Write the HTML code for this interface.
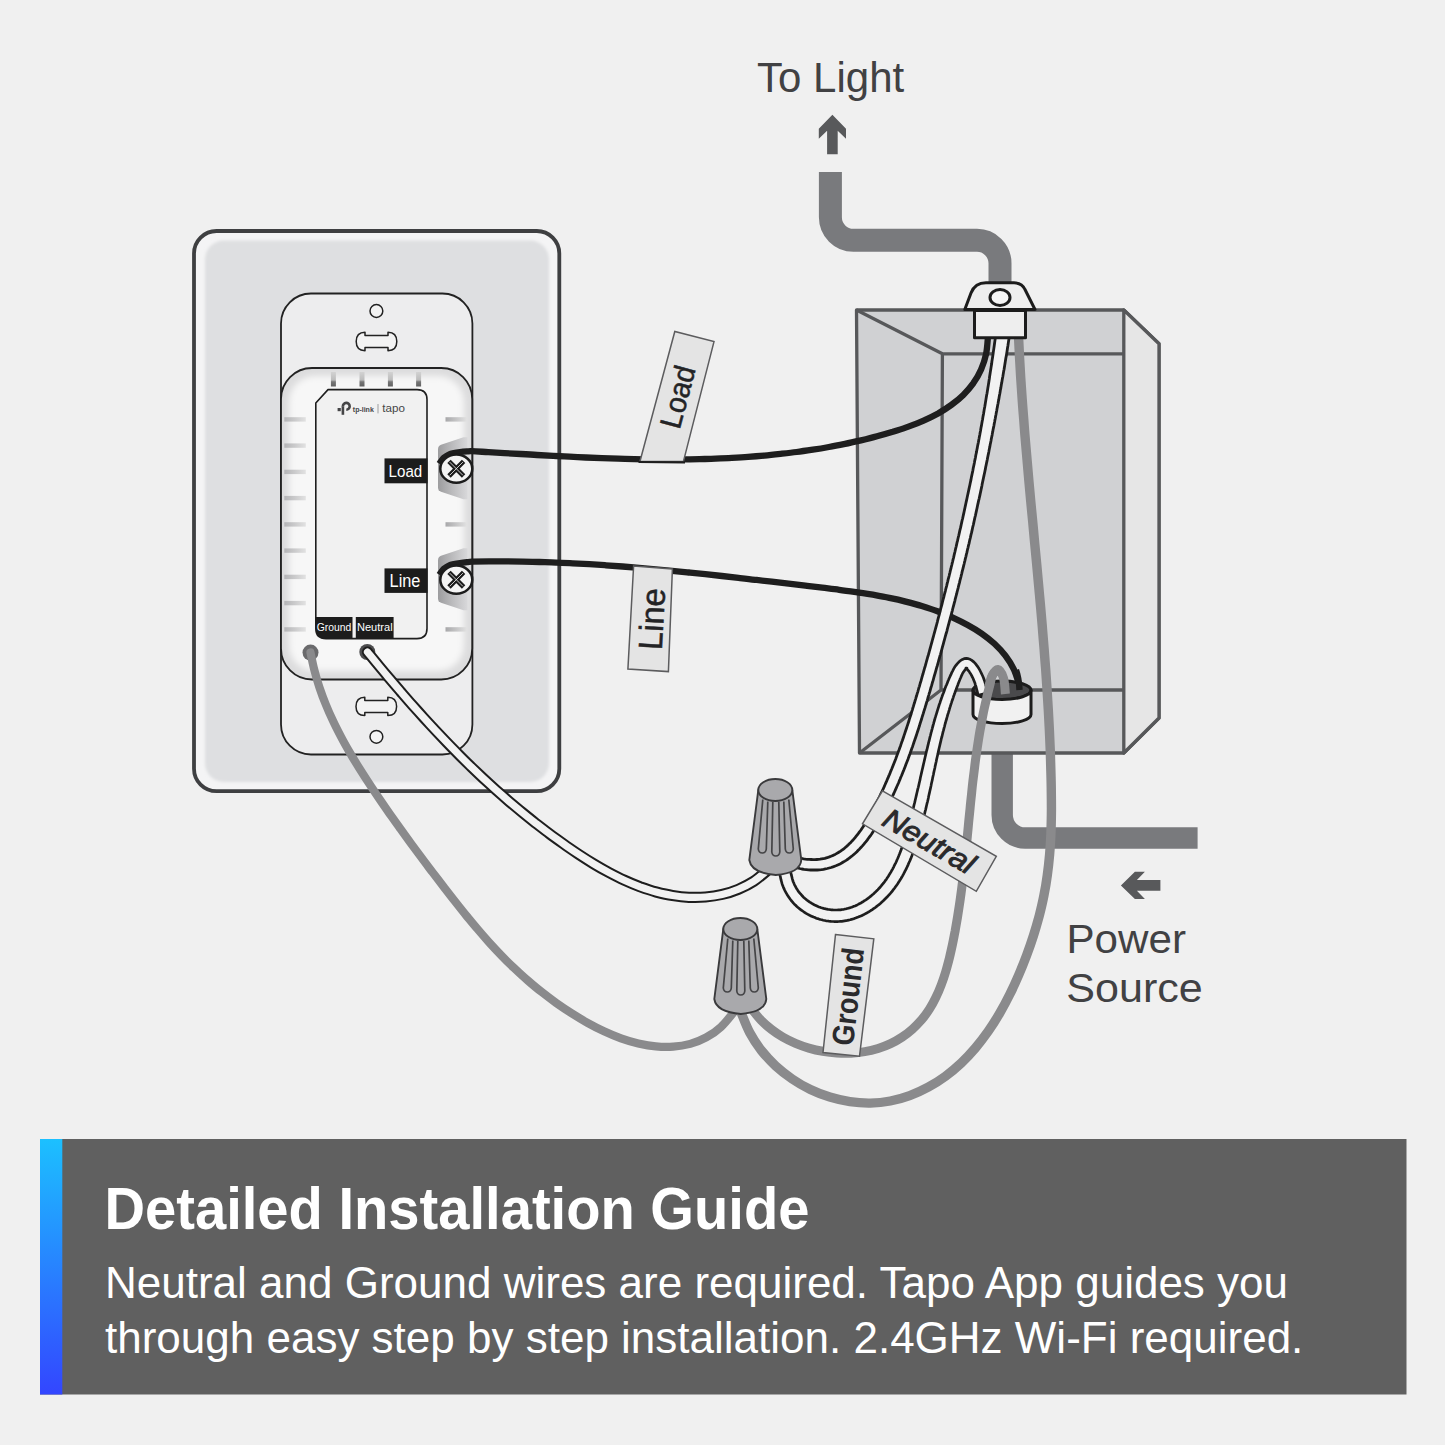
<!DOCTYPE html>
<html lang="en"><head><meta charset="utf-8"><title>Detailed Installation Guide</title>
<style>html,body{margin:0;padding:0;background:#f0f0f0;}body{width:1445px;height:1445px;overflow:hidden;font-family:"Liberation Sans",sans-serif;}svg{display:block;}</style>
</head><body>
<svg width="1445" height="1445" viewBox="0 0 1445 1445" font-family="'Liberation Sans', sans-serif">
<defs>
<filter id="b2" x="-10%" y="-10%" width="120%" height="120%"><feGaussianBlur stdDeviation="1.7"/></filter>
<filter id="b3" x="-10%" y="-10%" width="120%" height="120%"><feGaussianBlur stdDeviation="3"/></filter>
<linearGradient id="strip" x1="0" y1="0" x2="0" y2="1"><stop offset="0" stop-color="#1cc0ff"/><stop offset="1" stop-color="#3346ff"/></linearGradient>
<linearGradient id="ridgeL" x1="0" y1="0" x2="1" y2="0"><stop offset="0" stop-color="#b4b4b6"/><stop offset="1" stop-color="#e2e2e2"/></linearGradient>
<linearGradient id="ridgeR" x1="0" y1="0" x2="1" y2="0"><stop offset="0" stop-color="#a8a8aa"/><stop offset="1" stop-color="#e2e2e2"/></linearGradient>
<linearGradient id="tab" x1="0" y1="0" x2="1" y2="0"><stop offset="0" stop-color="#9c9c9e"/><stop offset="0.5" stop-color="#bcbcbe"/><stop offset="1" stop-color="#d8d8da"/></linearGradient>
<linearGradient id="notch" x1="0" y1="0" x2="0" y2="1"><stop offset="0" stop-color="#d2d2d2"/><stop offset="0.55" stop-color="#bcbcbc"/><stop offset="0.68" stop-color="#767676"/><stop offset="1" stop-color="#626262"/></linearGradient>
<clipPath id="bodyclip"><rect x="281" y="368" width="191" height="311.5" rx="31" ry="31"/></clipPath>
<g id="nut">
<path d="M-17,0 L-26,70 Q-24,83 0.5,85 Q25,83 26,70 L17,0 Z" fill="#a9a9ac" stroke="#3a3a3c" stroke-width="1.9" stroke-linejoin="round"/>
<ellipse cx="0" cy="0" rx="17" ry="11" fill="#a9a9ac" stroke="#3a3a3c" stroke-width="1.9"/>
<path d="M-12.5,9.5 L-17,59 Q-16.5,63 -13,63 Q-9.5,63 -9,59 L-7.5,11.5" fill="none" stroke="#454547" stroke-width="1.7"/>
<path d="M-2.5,12 L-3.5,62 Q-3,66 0.5,66 Q4,66 4.5,62 L3.5,12" fill="none" stroke="#454547" stroke-width="1.7"/>
<path d="M8.5,11.5 L10,59 Q10.5,63 14,63 Q17.5,63 18,59 L13.5,9.5" fill="none" stroke="#454547" stroke-width="1.7"/>
</g>
<g id="arrow"><path d="M0,0 L13.6,14 L13.6,24 L5.3,16 L5.3,39.5 L-5.3,39.5 L-5.3,16 L-13.6,24 L-13.6,14 Z" fill="#58595b"/></g>
<g id="slot"><path d="M-11.5,-6 H11.5 V-9.2 Q20.3,-9 20.3,0 Q20.3,9 11.5,9.2 V6 H-11.5 V9.2 Q-20.3,9 -20.3,0 Q-20.3,-9 -11.5,-9.2 Z" fill="#f3f3f3" stroke="#222" stroke-width="1.5" stroke-linejoin="round"/></g>
<g id="screw"><ellipse rx="16" ry="14.1" fill="#f4f4f4" stroke="#1c1c1c" stroke-width="2.5"/>
<path d="M-7.3,-7.3 L7.3,7.3 M-7.3,7.3 L7.3,-7.3" stroke="#1c1c1c" stroke-width="4.8" fill="none"/>
<path d="M-6.6,-6.6 L6.6,6.6 M-6.6,6.6 L6.6,-6.6" stroke="#f4f4f4" stroke-width="0.8" fill="none"/></g>
</defs>
<rect width="1445" height="1445" fill="#f0f0f0"/>
<rect x="194" y="231" width="365.3" height="560.2" rx="22.5" ry="22.5" fill="#f4f4f5" stroke="#3e3f41" stroke-width="3.8"/>
<rect x="205" y="240.5" width="344" height="541.5" rx="19" ry="19" fill="#dedfe1" filter="url(#b2)"/>
<rect x="281" y="293.5" width="191.4" height="461" rx="30" ry="30" fill="#ededee" stroke="#222" stroke-width="1.8"/>
<circle cx="376.4" cy="311" r="6.4" fill="#f3f3f3" stroke="#222" stroke-width="1.5"/>
<circle cx="376.4" cy="736.8" r="6.4" fill="#f3f3f3" stroke="#222" stroke-width="1.5"/>
<use href="#slot" x="376.5" y="341.5"/>
<use href="#slot" x="376.3" y="706.4"/>
<rect x="281" y="368" width="191.2" height="311.5" rx="31" ry="31" fill="#dcdcdd"/>
<g clip-path="url(#bodyclip)"><rect x="289" y="376" width="175" height="295" rx="26" ry="26" fill="#f7f7f7" filter="url(#b3)"/></g>
<rect x="330.9" y="372" width="5" height="14.5" fill="url(#notch)"/>
<rect x="359.5" y="372" width="5" height="14.5" fill="url(#notch)"/>
<rect x="387.9" y="372" width="5" height="14.5" fill="url(#notch)"/>
<rect x="416.1" y="372" width="5" height="14.5" fill="url(#notch)"/>
<rect x="284.3" y="417.2" width="21.5" height="4.4" fill="url(#ridgeL)"/>
<rect x="284.3" y="443.4" width="21.5" height="4.4" fill="url(#ridgeL)"/>
<rect x="284.3" y="469.7" width="21.5" height="4.4" fill="url(#ridgeL)"/>
<rect x="284.3" y="495.9" width="21.5" height="4.4" fill="url(#ridgeL)"/>
<rect x="284.3" y="522.2" width="21.5" height="4.4" fill="url(#ridgeL)"/>
<rect x="284.3" y="548.4" width="21.5" height="4.4" fill="url(#ridgeL)"/>
<rect x="284.3" y="574.7" width="21.5" height="4.4" fill="url(#ridgeL)"/>
<rect x="284.3" y="600.9" width="21.5" height="4.4" fill="url(#ridgeL)"/>
<rect x="284.3" y="627.2" width="21.5" height="4.4" fill="url(#ridgeL)"/>
<rect x="445.5" y="417.2" width="21.5" height="4.4" fill="url(#ridgeR)"/>
<rect x="445.5" y="522.2" width="21.5" height="4.4" fill="url(#ridgeR)"/>
<rect x="445.5" y="627.2" width="21.5" height="4.4" fill="url(#ridgeR)"/>
<path d="M438,449.3 Q438,445.8 441,444.8 L463.5,437.3 L467.5,437.3 L467.5,499.3 L463.5,499.3 L441,491.8 Q438,490.8 438,487.3 Z" fill="url(#tab)"/>
<path d="M438,560.2 Q438,556.7 441,555.7 L463.5,548.2 L467.5,548.2 L467.5,610.2 L463.5,610.2 L441,602.7 Q438,601.7 438,598.2 Z" fill="url(#tab)"/>
<rect x="281" y="368" width="191.2" height="311.5" rx="31" ry="31" fill="none" stroke="#222" stroke-width="1.8"/>
<path d="M328,389.6 H417 Q427,389.6 427,399.6 V628.5 Q427,638.6 417,638.6 H326 Q315.8,638.6 315.8,628.5 V403 Z" fill="#f1f1f1" stroke="#1e1e1e" stroke-width="1.6" stroke-linejoin="round"/>
<rect x="384.5" y="458.4" width="43" height="24.9" fill="#1c1c1c"/>
<text x="388.6" y="476.6" font-size="16" fill="#fff" textLength="33.6" lengthAdjust="spacingAndGlyphs">Load</text>
<rect x="384.5" y="568.4" width="43" height="24.5" fill="#1c1c1c"/>
<text x="389.6" y="587" font-size="18" fill="#fff" textLength="30.8" lengthAdjust="spacingAndGlyphs">Line</text>
<path d="M315.8,617 H352.5 V639 H326 Q315.8,639 315.8,628.5 Z" fill="#1c1c1c"/>
<rect x="355.8" y="617" width="37.8" height="22" fill="#1c1c1c"/>
<text x="316.8" y="631.3" font-size="11.4" fill="#fff" textLength="34.6" lengthAdjust="spacingAndGlyphs">Ground</text>
<text x="357" y="631.3" font-size="11.4" fill="#fff" textLength="35.6" lengthAdjust="spacingAndGlyphs">Neutral</text>
<g fill="#454547"><path d="M342.9,406.6 A3.4,3.4 0 1 1 346.3,409.7" fill="none" stroke="#454547" stroke-width="2.6"/><rect x="341.6" y="406.4" width="2.6" height="8.4"/><rect x="337.6" y="408" width="3.2" height="3.2"/><text x="352.8" y="411.6" font-size="7.8" font-weight="bold" textLength="21" lengthAdjust="spacingAndGlyphs">tp-link</text><rect x="377.6" y="404" width="0.8" height="9.4" fill="#8a8a8c"/><text x="382.3" y="411.6" font-size="10.4" textLength="22.6" lengthAdjust="spacingAndGlyphs">tapo</text></g>
<circle cx="310.5" cy="652.6" r="8" fill="#6a6a6c"/>
<circle cx="367.3" cy="652" r="8" fill="#4c4c4e"/>
<path d="M830.4,172 V217.3 a23,23 0 0 0 23,23 H977 a23,23 0 0 1 23,23 V290" fill="none" stroke="#797a7d" stroke-width="23"/>
<path d="M1002.2,715 V815 a23,23 0 0 0 23,23 H1197.6" fill="none" stroke="#797a7d" stroke-width="21.4"/>
<g stroke="#57585a" stroke-width="3.3" stroke-linejoin="round">
<path d="M856.5,310 H1123.8 L1159,343.8 V718 L1123.8,753 H859.5 Z" fill="#d0d1d3"/>
<path d="M1123.8,310 L1159,343.8 V718 L1123.8,753 Z" fill="#e6e6e6"/>
<path d="M856.5,310 L942.4,353.8 H1123.8 M942.4,353.8 L941,690 H1123.8 M941,690 L859.5,753" fill="none"/>
</g>
<path d="M1018.5,336.0 C1018.7,339.4 1019.2,349.8 1019.5,356.7 C1019.9,363.6 1020.3,370.5 1020.7,377.4 C1021.2,384.3 1021.6,391.2 1022.1,398.1 C1022.6,405.0 1023.1,411.9 1023.7,418.8 C1024.2,425.8 1024.7,432.7 1025.3,439.6 C1025.9,446.5 1026.5,453.4 1027.1,460.3 C1027.7,467.3 1028.3,474.2 1028.9,481.1 C1029.5,488.0 1030.2,494.9 1030.8,501.9 C1031.5,508.8 1032.1,515.7 1032.8,522.6 C1033.4,529.5 1034.1,536.5 1034.7,543.4 C1035.4,550.3 1036.0,557.2 1036.7,564.2 C1037.3,571.1 1038.0,578.0 1038.6,585.0 C1039.2,591.9 1039.9,598.8 1040.5,605.7 C1041.1,612.7 1041.7,619.6 1042.3,626.5 C1042.8,633.5 1043.4,640.4 1044.0,647.3 C1044.5,654.2 1045.0,661.2 1045.6,668.1 C1046.1,675.0 1046.5,682.0 1047.0,688.9 C1047.4,695.8 1047.9,702.7 1048.3,709.7 C1048.7,716.6 1049.0,723.5 1049.4,730.4 C1049.7,737.4 1050.0,744.3 1050.3,751.2 C1050.5,758.1 1050.7,765.1 1050.9,772.0 C1051.1,778.9 1051.3,785.8 1051.3,792.7 C1051.4,799.7 1051.5,806.6 1051.4,813.5 C1051.3,820.4 1051.2,827.3 1050.9,834.1 C1050.6,841.0 1050.2,847.9 1049.6,854.7 C1049.0,861.6 1048.3,868.4 1047.3,875.2 C1046.4,882.0 1045.3,888.7 1043.9,895.5 C1042.6,902.2 1041.0,908.9 1039.3,915.6 C1037.5,922.2 1035.6,928.9 1033.5,935.5 C1031.4,942.1 1029.1,948.7 1026.6,955.3 C1024.1,961.9 1021.5,968.5 1018.7,975.0 C1015.9,981.6 1012.9,988.1 1009.7,994.5 C1006.6,1000.8 1003.2,1007.2 999.6,1013.3 C996.1,1019.4 992.3,1025.4 988.3,1031.2 C984.2,1037.0 980.0,1042.6 975.5,1047.9 C971.0,1053.2 966.3,1058.3 961.3,1063.0 C956.3,1067.7 951.0,1072.2 945.5,1076.2 C939.9,1080.3 934.1,1084.0 928.2,1087.2 C922.2,1090.5 916.0,1093.3 909.7,1095.6 C903.4,1097.9 896.9,1099.8 890.3,1101.0 C883.8,1102.3 877.0,1103.0 870.3,1103.1 C863.5,1103.2 856.7,1102.7 849.9,1101.7 C843.2,1100.7 836.4,1099.1 829.8,1097.1 C823.2,1095.1 816.7,1092.5 810.4,1089.5 C804.2,1086.5 798.0,1083.0 792.2,1079.0 C786.5,1075.1 780.9,1070.7 775.7,1066.0 C770.6,1061.2 765.7,1056.0 761.4,1050.5 C757.1,1045.0 753.1,1039.0 749.8,1032.8 C746.4,1026.5 742.7,1016.3 741.3,1013.0" fill="none" stroke="#8a8a8c" stroke-width="9.4"/>
<path d="M439.3,463.8 C439.5,463.5 439.7,463.0 440.5,462.0 C441.3,461.0 442.6,458.9 444.0,457.6 C445.4,456.4 447.2,455.3 448.9,454.5 C450.5,453.7 452.0,453.4 453.9,453.0 C455.8,452.6 457.8,452.3 460.0,452.0 C462.2,451.7 465.0,451.5 467.0,451.4 C469.0,451.3 468.5,451.1 472.0,451.2 C475.5,451.3 482.8,451.8 488.3,452.1 C493.7,452.4 499.1,452.8 504.5,453.1 C509.9,453.4 515.3,453.7 520.8,454.0 C526.2,454.3 531.6,454.6 537.0,455.0 C542.4,455.3 547.8,455.6 553.3,455.9 C558.7,456.1 564.1,456.4 569.5,456.7 C574.9,457.0 580.3,457.2 585.7,457.5 C591.2,457.7 596.6,457.9 602.0,458.1 C607.4,458.3 612.8,458.5 618.2,458.7 C623.6,458.9 629.1,459.0 634.5,459.1 C639.9,459.3 645.3,459.3 650.7,459.4 C656.1,459.5 661.5,459.5 666.9,459.5 C672.4,459.5 677.8,459.5 683.2,459.4 C688.6,459.4 694.0,459.3 699.4,459.2 C704.8,459.0 710.2,458.9 715.6,458.6 C721.0,458.4 726.4,458.2 731.8,457.9 C737.2,457.6 742.6,457.3 748.0,456.9 C753.4,456.5 758.9,456.0 764.3,455.6 C769.7,455.1 775.1,454.5 780.5,453.9 C785.8,453.3 791.2,452.7 796.6,452.0 C802.0,451.3 807.4,450.5 812.8,449.7 C818.2,448.9 823.6,448.0 828.9,447.0 C834.3,446.1 839.7,445.0 845.0,443.9 C850.4,442.8 855.7,441.6 861.0,440.4 C866.4,439.1 871.7,437.8 877.0,436.3 C882.3,434.9 887.5,433.4 892.8,431.8 C898.0,430.1 903.3,428.5 908.4,426.6 C913.6,424.7 918.7,422.8 923.6,420.6 C928.6,418.4 933.4,416.1 938.1,413.5 C942.7,410.8 947.2,408.0 951.4,404.9 C955.6,401.8 959.7,398.5 963.3,394.9 C967.0,391.2 970.4,387.3 973.4,383.1 C976.3,378.8 979.0,374.3 981.1,369.4 C983.2,364.5 985.0,359.3 986.1,353.8 C987.3,348.2 987.7,339.0 988.0,336.0" fill="none" stroke="#1e1e1e" stroke-width="6.3"/>
<path d="M439.3,574.8 C439.5,574.5 439.7,574.0 440.5,573.0 C441.3,572.0 442.6,569.9 444.0,568.6 C445.4,567.4 447.2,566.3 448.9,565.5 C450.5,564.7 452.0,564.4 453.9,564.0 C455.8,563.6 457.8,563.3 460.0,563.0 C462.2,562.7 465.0,562.4 467.0,562.2 C469.0,562.0 468.3,561.7 472.0,561.6 C475.7,561.5 483.3,561.4 488.9,561.4 C494.6,561.3 500.2,561.3 505.8,561.4 C511.4,561.4 517.0,561.5 522.6,561.6 C528.2,561.7 533.8,561.8 539.4,562.0 C544.9,562.2 550.5,562.3 556.1,562.6 C561.6,562.8 567.2,563.0 572.7,563.3 C578.3,563.6 583.8,563.9 589.3,564.2 C594.9,564.6 600.4,564.9 605.9,565.3 C611.5,565.7 617.0,566.1 622.5,566.5 C628.0,566.9 633.5,567.4 639.1,567.8 C644.6,568.3 650.1,568.8 655.6,569.3 C661.1,569.8 666.6,570.3 672.1,570.8 C677.7,571.4 683.2,571.9 688.7,572.5 C694.2,573.1 699.7,573.6 705.3,574.2 C710.8,574.8 716.3,575.4 721.9,576.0 C727.4,576.6 732.9,577.3 738.5,577.9 C744.0,578.5 749.6,579.1 755.1,579.8 C760.7,580.4 766.3,581.1 771.8,581.7 C777.4,582.4 783.0,583.0 788.6,583.7 C794.2,584.4 799.8,585.0 805.4,585.7 C811.0,586.4 816.6,587.0 822.3,587.7 C827.9,588.4 833.5,589.0 839.2,589.8 C844.8,590.5 850.4,591.3 856.0,592.1 C861.6,592.9 867.2,593.8 872.8,594.7 C878.3,595.7 883.9,596.7 889.3,597.9 C894.8,599.0 900.3,600.2 905.7,601.6 C911.1,603.0 916.5,604.4 921.8,606.0 C927.1,607.7 932.3,609.4 937.5,611.3 C942.6,613.3 947.7,615.3 952.8,617.6 C957.8,619.9 962.8,622.3 967.6,625.0 C972.4,627.6 977.2,630.5 981.7,633.6 C986.1,636.7 990.5,640.1 994.5,643.8 C998.4,647.5 1002.2,651.4 1005.4,655.7 C1008.7,660.0 1011.6,664.7 1014.0,669.7 C1016.3,674.8 1018.6,683.3 1019.5,686.0" fill="none" stroke="#1e1e1e" stroke-width="6.3"/>
<use href="#screw" x="456.3" y="468.7"/>
<use href="#screw" x="456.3" y="579.7"/>
<path d="M640,461.3 L674.8,331.5 L714,341.6 L683.4,461.6 Z" fill="#e4e4e4" stroke="#5c5c5e" stroke-width="1.5"/>
<path d="M638.5,462 L685,462.3" stroke="#1e1e1e" stroke-width="2.2"/>
<text transform="translate(677.8,396.8) rotate(-75)" font-size="30" fill="#232325" stroke="#232325" stroke-width="0.5" text-anchor="middle" textLength="63.5" lengthAdjust="spacingAndGlyphs" x="0" y="10.3">Load</text>
<path d="M633.6,566 L672.4,569 L668.4,671.6 L627.9,669.1 Z" fill="#e4e4e4" stroke="#5c5c5e" stroke-width="1.5"/>
<text transform="translate(651.7,619) rotate(-87)" font-size="33.5" fill="#232325" stroke="#232325" stroke-width="0.5" text-anchor="middle" textLength="62" lengthAdjust="spacingAndGlyphs" x="0" y="11.8">Line</text>
<ellipse cx="1002" cy="690.3" rx="29" ry="9.2" fill="#4a4a4c" stroke="#1c1c1c" stroke-width="3"/>
<path d="M1016,670 Q1019,678 1019.5,690" fill="none" stroke="#1e1e1e" stroke-width="6.4"/>
<path d="M995.7,335.0 L995.6,336.2 L995.4,337.7 L995.1,339.6 L994.8,341.6 L994.5,343.8 L994.2,346.0 L993.9,348.1 L993.6,350.1 L993.3,352.0 L993.1,353.9 L992.8,355.8 L992.5,357.7 L992.2,359.6 L991.9,361.5 L991.7,363.3 L991.4,365.2 L991.1,367.1 L990.8,369.0 L990.5,370.9 L990.2,372.8 L989.9,374.7 L989.6,376.5 L989.4,378.4 L989.1,380.3 L988.8,382.2 L988.5,384.1 L988.2,386.0 L987.9,387.8 L987.6,389.7 L987.3,391.6 L987.0,393.5 L986.6,395.4 L986.3,397.2 L986.0,399.1 L985.7,401.0 L985.4,402.9 L985.1,404.8 L984.8,406.6 L984.4,408.5 L984.1,410.4 L983.8,412.3 L983.5,414.1 L983.1,416.0 L982.8,417.9 L982.5,419.8 L982.1,421.7 L981.8,423.5 L981.5,425.4 L981.1,427.3 L980.8,429.1 L980.5,431.0 L980.1,432.9 L979.8,434.8 L979.4,436.6 L979.1,438.5 L978.7,440.4 L978.4,442.3 L978.0,444.1 L977.6,446.0 L977.3,447.9 L976.9,449.7 L976.6,451.6 L976.2,453.5 L975.8,455.3 L975.5,457.2 L975.1,459.1 L974.7,460.9 L974.4,462.8 L974.0,464.7 L973.6,466.5 L973.2,468.4 L972.9,470.3 L972.5,472.1 L972.1,474.0 L971.7,475.9 L971.3,477.7 L971.0,479.6 L970.6,481.4 L970.2,483.3 L969.8,485.2 L969.4,487.0 L969.0,488.9 L968.6,490.8 L968.2,492.6 L967.8,494.5 L967.4,496.3 L967.0,498.2 L966.6,500.1 L966.2,501.9 L965.8,503.8 L965.4,505.6 L965.0,507.5 L964.6,509.4 L964.2,511.2 L963.8,513.1 L963.4,514.9 L963.0,516.8 L962.6,518.6 L962.1,520.5 L961.7,522.4 L961.3,524.2 L960.9,526.1 L960.5,527.9 L960.0,529.8 L959.6,531.6 L959.2,533.5 L958.8,535.3 L958.3,537.2 L957.9,539.0 L957.5,540.9 L957.0,542.7 L956.6,544.6 L956.2,546.5 L955.7,548.3 L955.3,550.2 L954.9,552.0 L954.4,553.9 L954.0,555.7 L953.6,557.6 L953.1,559.4 L952.7,561.3 L952.2,563.1 L951.8,565.0 L951.3,566.8 L950.9,568.7 L950.4,570.5 L950.0,572.3 L949.5,574.2 L949.1,576.0 L948.6,577.9 L948.1,579.7 L947.7,581.6 L947.2,583.4 L946.8,585.3 L946.3,587.1 L945.8,589.0 L945.4,590.8 L944.9,592.7 L944.4,594.5 L944.0,596.3 L943.5,598.2 L943.0,600.0 L942.5,601.9 L942.1,603.7 L941.6,605.6 L941.1,607.4 L940.6,609.2 L940.2,611.1 L939.7,612.9 L939.2,614.8 L938.7,616.6 L938.2,618.4 L937.7,620.3 L937.3,622.1 L936.8,624.0 L936.3,625.8 L935.8,627.6 L935.3,629.5 L934.8,631.3 L934.3,633.2 L933.8,635.0 L933.3,636.8 L932.8,638.7 L932.3,640.5 L931.8,642.4 L931.3,644.2 L930.8,646.0 L930.3,647.9 L929.8,649.7 L929.3,651.5 L928.8,653.4 L928.3,655.2 L927.7,657.0 L927.2,658.9 L926.7,660.7 L926.2,662.5 L925.7,664.4 L925.2,666.2 L924.6,668.0 L924.1,669.9 L923.6,671.7 L923.1,673.5 L922.5,675.4 L922.0,677.2 L921.5,679.0 L921.0,680.9 L920.4,682.7 L919.9,684.5 L919.4,686.3 L918.8,688.2 L918.3,690.0 L917.8,691.8 L917.2,693.7 L916.7,695.5 L916.1,697.3 L915.6,699.1 L915.0,701.0 L914.5,702.8 L913.9,704.6 L913.4,706.4 L912.8,708.2 L912.3,710.1 L911.7,711.9 L911.2,713.7 L910.6,715.5 L910.0,717.3 L909.4,719.1 L908.9,721.0 L908.3,722.8 L907.7,724.6 L907.1,726.4 L906.5,728.2 L905.9,730.0 L905.3,731.8 L904.7,733.6 L904.1,735.4 L903.5,737.2 L902.9,739.0 L902.3,740.8 L901.6,742.6 L901.0,744.4 L900.4,746.2 L899.7,748.0 L899.1,749.8 L898.4,751.6 L897.8,753.3 L897.1,755.1 L896.4,756.9 L895.8,758.7 L895.1,760.5 L894.4,762.3 L893.7,764.0 L893.0,765.8 L892.3,767.6 L891.6,769.3 L890.8,771.1 L890.1,772.9 L889.4,774.6 L888.6,776.4 L887.9,778.2 L887.1,779.9 L886.4,781.7 L885.6,783.4 L884.8,785.2 L884.1,786.9 L883.3,788.7 L882.5,790.4 L881.7,792.2 L880.8,793.9 L880.0,795.7 L879.2,797.4 L878.4,799.2 L877.5,800.9 L876.7,802.6 L875.8,804.3 L874.9,806.0 L874.0,807.8 L873.1,809.5 L872.2,811.2 L871.3,812.9 L870.4,814.6 L869.5,816.2 L868.5,817.9 L867.6,819.5 L866.6,821.1 L865.6,822.7 L864.6,824.3 L863.6,825.9 L862.6,827.5 L861.6,829.0 L860.6,830.5 L859.5,831.9 L858.4,833.4 L857.3,834.8 L856.2,836.2 L855.1,837.6 L854.0,838.9 L852.8,840.2 L851.7,841.4 L850.5,842.7 L849.3,843.8 L848.1,845.0 L846.9,846.1 L845.6,847.2 L844.4,848.3 L843.1,849.3 L841.9,850.2 L840.6,851.1 L839.2,852.0 L837.9,852.8 L836.5,853.6 L835.1,854.4 L833.7,855.1 L832.3,855.7 L830.9,856.3 L829.4,856.9 L827.9,857.4 L826.4,857.8 L824.8,858.3 L823.3,858.6 L821.7,858.9 L820.1,859.2 L818.4,859.4 L816.8,859.5 L815.0,859.6 L813.1,859.6 L811.2,859.5 L809.2,859.4 L807.3,859.3 L805.4,859.1 L803.7,858.8 L802.3,858.5 L801.1,858.1 L799.8,857.6 L798.4,856.9 L797.0,856.2 L795.7,855.4 L794.5,854.7 L793.4,854.0 L792.5,853.5 L787.5,862.5 L788.2,862.9 L789.2,863.5 L790.4,864.3 L791.9,865.2 L793.6,866.1 L795.5,867.0 L797.6,867.9 L799.7,868.5 L801.8,869.0 L804.0,869.4 L806.2,869.6 L808.5,869.8 L810.7,870.0 L813.0,870.0 L815.2,870.0 L817.3,870.0 L819.4,869.8 L821.5,869.6 L823.5,869.3 L825.4,868.9 L827.3,868.5 L829.2,868.0 L831.1,867.5 L832.9,866.9 L834.7,866.2 L836.5,865.5 L838.3,864.7 L840.0,863.9 L841.7,863.0 L843.3,862.0 L844.9,861.1 L846.5,860.1 L848.1,859.0 L849.6,857.8 L851.1,856.7 L852.6,855.5 L854.1,854.2 L855.5,853.0 L856.9,851.7 L858.2,850.3 L859.6,848.9 L860.9,847.5 L862.2,846.1 L863.5,844.6 L864.7,843.1 L866.0,841.6 L867.2,840.1 L868.3,838.5 L869.5,836.9 L870.7,835.3 L871.8,833.7 L872.9,832.0 L874.0,830.3 L875.1,828.7 L876.1,827.0 L877.2,825.3 L878.2,823.6 L879.2,821.8 L880.2,820.1 L881.2,818.3 L882.2,816.6 L883.1,814.8 L884.1,813.1 L885.0,811.3 L885.9,809.5 L886.8,807.8 L887.7,806.0 L888.6,804.2 L889.5,802.4 L890.4,800.6 L891.2,798.9 L892.1,797.1 L892.9,795.3 L893.8,793.5 L894.6,791.7 L895.4,789.9 L896.2,788.1 L897.0,786.3 L897.8,784.5 L898.6,782.7 L899.3,780.9 L900.1,779.1 L900.8,777.3 L901.6,775.5 L902.3,773.7 L903.0,771.9 L903.8,770.1 L904.5,768.3 L905.2,766.5 L905.9,764.6 L906.6,762.8 L907.3,761.0 L908.0,759.2 L908.6,757.4 L909.3,755.5 L910.0,753.7 L910.6,751.9 L911.3,750.1 L911.9,748.2 L912.6,746.4 L913.2,744.6 L913.8,742.8 L914.4,740.9 L915.1,739.1 L915.7,737.3 L916.3,735.5 L916.9,733.6 L917.5,731.8 L918.1,730.0 L918.7,728.1 L919.3,726.3 L919.8,724.5 L920.4,722.6 L921.0,720.8 L921.6,719.0 L922.1,717.1 L922.7,715.3 L923.3,713.4 L923.8,711.6 L924.4,709.8 L925.0,707.9 L925.5,706.1 L926.1,704.3 L926.6,702.4 L927.2,700.6 L927.7,698.8 L928.2,696.9 L928.8,695.1 L929.3,693.2 L929.9,691.4 L930.4,689.6 L930.9,687.7 L931.5,685.9 L932.0,684.1 L932.5,682.2 L933.1,680.4 L933.6,678.5 L934.1,676.7 L934.6,674.9 L935.2,673.0 L935.7,671.2 L936.2,669.3 L936.7,667.5 L937.3,665.7 L937.8,663.8 L938.3,662.0 L938.8,660.1 L939.3,658.3 L939.8,656.5 L940.4,654.6 L940.9,652.8 L941.4,650.9 L941.9,649.1 L942.4,647.2 L942.9,645.4 L943.4,643.6 L943.9,641.7 L944.4,639.9 L944.9,638.0 L945.4,636.2 L945.9,634.3 L946.5,632.5 L947.0,630.6 L947.4,628.8 L947.9,627.0 L948.4,625.1 L948.9,623.3 L949.4,621.4 L949.9,619.6 L950.4,617.7 L950.9,615.9 L951.4,614.0 L951.9,612.2 L952.4,610.3 L952.8,608.5 L953.3,606.6 L953.8,604.8 L954.3,602.9 L954.8,601.1 L955.2,599.2 L955.7,597.4 L956.2,595.5 L956.7,593.7 L957.1,591.8 L957.6,590.0 L958.1,588.1 L958.5,586.3 L959.0,584.4 L959.5,582.6 L959.9,580.7 L960.4,578.9 L960.9,577.0 L961.3,575.2 L961.8,573.3 L962.2,571.4 L962.7,569.6 L963.2,567.7 L963.6,565.9 L964.1,564.0 L964.5,562.2 L965.0,560.3 L965.4,558.4 L965.9,556.6 L966.3,554.7 L966.8,552.9 L967.2,551.0 L967.6,549.2 L968.1,547.3 L968.5,545.4 L969.0,543.6 L969.4,541.7 L969.8,539.9 L970.3,538.0 L970.7,536.1 L971.1,534.3 L971.6,532.4 L972.0,530.6 L972.4,528.7 L972.8,526.8 L973.3,525.0 L973.7,523.1 L974.1,521.2 L974.5,519.4 L974.9,517.5 L975.4,515.6 L975.8,513.8 L976.2,511.9 L976.6,510.0 L977.0,508.2 L977.4,506.3 L977.8,504.4 L978.2,502.6 L978.6,500.7 L979.1,498.8 L979.5,497.0 L979.9,495.1 L980.3,493.2 L980.7,491.4 L981.1,489.5 L981.5,487.6 L981.9,485.8 L982.2,483.9 L982.6,482.0 L983.0,480.1 L983.4,478.3 L983.8,476.4 L984.2,474.5 L984.6,472.7 L985.0,470.8 L985.4,468.9 L985.7,467.0 L986.1,465.2 L986.5,463.3 L986.9,461.4 L987.3,459.5 L987.6,457.7 L988.0,455.8 L988.4,453.9 L988.8,452.0 L989.1,450.2 L989.5,448.3 L989.9,446.4 L990.2,444.5 L990.6,442.7 L991.0,440.8 L991.3,438.9 L991.7,437.0 L992.1,435.1 L992.4,433.3 L992.8,431.4 L993.1,429.5 L993.5,427.6 L993.9,425.7 L994.2,423.9 L994.6,422.0 L994.9,420.1 L995.3,418.2 L995.6,416.3 L996.0,414.5 L996.3,412.6 L996.7,410.7 L997.0,408.8 L997.4,406.9 L997.7,405.0 L998.1,403.2 L998.4,401.3 L998.8,399.4 L999.1,397.5 L999.4,395.6 L999.8,393.7 L1000.1,391.9 L1000.4,390.0 L1000.8,388.1 L1001.1,386.2 L1001.4,384.3 L1001.8,382.4 L1002.1,380.5 L1002.4,378.6 L1002.8,376.8 L1003.1,374.9 L1003.4,373.0 L1003.7,371.1 L1004.1,369.2 L1004.4,367.3 L1004.7,365.4 L1005.0,363.5 L1005.3,361.6 L1005.6,359.7 L1005.9,357.8 L1006.3,355.9 L1006.6,354.1 L1006.9,352.2 L1007.2,350.2 L1007.5,348.0 L1007.9,345.8 L1008.2,343.6 L1008.5,341.6 L1008.8,339.7 L1009.1,338.2 L1009.3,337.0Z" fill="#f2f2f2" stroke="#1e1e1e" stroke-width="2.8" stroke-linejoin="round"/>
<path d="M987.8,692.7 L987.5,691.7 L987.1,690.2 L986.7,688.4 L986.1,686.5 L985.6,684.4 L984.9,682.2 L984.3,680.2 L983.6,678.2 L982.9,676.5 L982.1,674.8 L981.3,673.1 L980.5,671.5 L979.7,669.9 L978.8,668.3 L977.9,666.9 L976.9,665.6 L976.0,664.4 L975.0,663.2 L974.0,662.1 L972.8,661.1 L971.5,660.1 L970.1,659.3 L968.3,658.7 L966.3,658.4 L964.1,658.7 L962.4,659.4 L960.9,660.3 L959.7,661.3 L958.6,662.3 L957.6,663.4 L956.7,664.5 L955.8,665.5 L954.9,666.8 L954.1,668.1 L953.4,669.4 L952.7,670.8 L952.0,672.1 L951.4,673.4 L950.9,674.7 L950.3,675.9 L949.7,677.2 L949.1,678.5 L948.6,679.8 L948.0,681.1 L947.5,682.4 L947.0,683.7 L946.5,685.0 L945.9,686.2 L945.4,687.5 L944.9,688.8 L944.5,690.1 L944.0,691.4 L943.5,692.7 L943.0,693.9 L942.5,695.2 L942.1,696.5 L941.6,697.8 L941.2,699.1 L940.7,700.4 L940.3,701.7 L939.9,703.0 L939.4,704.2 L939.0,705.5 L938.6,706.8 L938.2,708.1 L937.8,709.4 L937.4,710.7 L937.0,712.0 L936.6,713.3 L936.2,714.6 L935.8,715.9 L935.4,717.2 L935.0,718.4 L934.7,719.7 L934.3,721.0 L933.9,722.3 L933.6,723.6 L933.2,724.9 L932.9,726.2 L932.5,727.5 L932.2,728.8 L931.8,730.1 L931.5,731.4 L931.1,732.7 L930.8,734.0 L930.5,735.3 L930.1,736.6 L929.8,737.9 L929.5,739.2 L929.2,740.5 L928.8,741.8 L928.5,743.1 L928.2,744.3 L927.9,745.6 L927.6,746.9 L927.3,748.2 L927.0,749.5 L926.6,750.8 L926.3,752.1 L926.0,753.4 L925.7,754.7 L925.4,756.0 L925.1,757.3 L924.8,758.6 L924.5,759.9 L924.2,761.2 L923.9,762.5 L923.6,763.8 L923.3,765.1 L923.0,766.4 L922.7,767.7 L922.4,769.0 L922.1,770.3 L921.8,771.6 L921.5,772.9 L921.2,774.2 L920.9,775.5 L920.6,776.8 L920.3,778.1 L920.1,779.4 L919.8,780.7 L919.5,782.0 L919.2,783.3 L918.9,784.6 L918.6,786.0 L918.3,787.3 L917.9,788.6 L917.6,789.9 L917.3,791.2 L917.0,792.5 L916.7,793.8 L916.4,795.1 L916.1,796.4 L915.8,797.7 L915.5,799.0 L915.2,800.3 L914.9,801.6 L914.6,802.9 L914.2,804.3 L913.9,805.6 L913.6,806.9 L913.3,808.2 L913.0,809.5 L912.6,810.8 L912.3,812.1 L912.0,813.4 L911.6,814.7 L911.3,816.1 L911.0,817.4 L910.6,818.7 L910.3,820.0 L909.9,821.3 L909.6,822.6 L909.2,824.0 L908.9,825.3 L908.5,826.6 L908.1,827.9 L907.8,829.2 L907.4,830.5 L907.0,831.8 L906.6,833.1 L906.2,834.4 L905.8,835.8 L905.5,837.1 L905.0,838.4 L904.6,839.6 L904.2,840.9 L903.8,842.2 L903.4,843.5 L902.9,844.8 L902.5,846.1 L902.0,847.3 L901.6,848.6 L901.1,849.9 L900.7,851.1 L900.2,852.3 L899.7,853.6 L899.2,854.8 L898.7,856.1 L898.2,857.3 L897.7,858.5 L897.1,859.7 L896.6,860.9 L896.1,862.1 L895.5,863.3 L894.9,864.4 L894.3,865.6 L893.8,866.8 L893.2,867.9 L892.6,869.1 L891.9,870.2 L891.3,871.3 L890.7,872.4 L890.0,873.5 L889.3,874.6 L888.7,875.7 L888.0,876.8 L887.3,877.8 L886.6,878.9 L885.9,879.9 L885.1,880.9 L884.4,881.9 L883.6,883.0 L882.8,883.9 L882.0,884.9 L881.2,885.9 L880.4,886.8 L879.6,887.8 L878.7,888.7 L877.9,889.6 L877.0,890.5 L876.1,891.4 L875.2,892.3 L874.3,893.1 L873.4,894.0 L872.4,894.8 L871.5,895.6 L870.5,896.4 L869.5,897.2 L868.6,897.9 L867.6,898.7 L866.6,899.4 L865.5,900.1 L864.5,900.7 L863.5,901.4 L862.5,902.0 L861.4,902.7 L860.3,903.3 L859.3,903.8 L858.2,904.4 L857.2,904.9 L856.1,905.4 L855.0,905.9 L853.9,906.3 L852.8,906.8 L851.7,907.2 L850.6,907.5 L849.5,907.9 L848.4,908.2 L847.3,908.5 L846.1,908.8 L845.0,909.0 L843.9,909.3 L842.8,909.5 L841.6,909.6 L840.5,909.8 L839.4,909.9 L838.3,909.9 L837.1,910.0 L836.0,910.0 L834.8,910.0 L833.7,910.0 L832.5,909.9 L831.4,909.8 L830.3,909.7 L829.1,909.5 L828.0,909.4 L826.9,909.2 L825.7,908.9 L824.6,908.7 L823.5,908.4 L822.3,908.0 L821.2,907.7 L820.1,907.3 L819.0,906.9 L818.0,906.5 L816.9,906.0 L815.8,905.5 L814.7,905.0 L813.7,904.5 L812.7,903.9 L811.7,903.3 L810.7,902.7 L809.7,902.1 L808.7,901.4 L807.7,900.7 L806.8,900.0 L805.9,899.2 L805.0,898.5 L804.1,897.7 L803.2,896.9 L802.4,896.0 L801.6,895.1 L800.8,894.2 L800.0,893.3 L799.2,892.4 L798.5,891.4 L797.8,890.4 L797.2,889.4 L796.5,888.4 L795.9,887.3 L795.3,886.2 L794.7,885.1 L794.2,884.0 L793.7,882.8 L793.2,881.7 L792.8,880.5 L792.4,879.1 L792.0,877.5 L791.6,875.9 L791.2,874.4 L790.9,872.9 L790.6,871.7 L790.4,870.7 L779.6,873.3 L779.8,874.1 L780.0,875.3 L780.4,876.8 L780.7,878.4 L781.1,880.2 L781.6,882.0 L782.1,883.9 L782.7,885.6 L783.3,887.1 L784.0,888.6 L784.6,890.0 L785.3,891.4 L786.1,892.8 L786.9,894.2 L787.7,895.5 L788.5,896.7 L789.4,898.0 L790.3,899.3 L791.2,900.5 L792.2,901.6 L793.2,902.8 L794.2,903.9 L795.3,904.9 L796.3,906.0 L797.4,907.0 L798.6,908.0 L799.7,908.9 L800.9,909.8 L802.1,910.7 L803.3,911.5 L804.5,912.3 L805.7,913.1 L807.0,913.9 L808.3,914.6 L809.6,915.3 L810.9,915.9 L812.2,916.5 L813.5,917.1 L814.9,917.6 L816.2,918.2 L817.6,918.6 L819.0,919.1 L820.4,919.5 L821.8,919.8 L823.2,920.2 L824.6,920.5 L826.0,920.8 L827.4,921.0 L828.9,921.2 L830.3,921.3 L831.7,921.5 L833.2,921.5 L834.6,921.6 L836.0,921.6 L837.5,921.6 L838.9,921.5 L840.3,921.4 L841.8,921.3 L843.2,921.1 L844.6,920.9 L846.0,920.7 L847.4,920.4 L848.7,920.1 L850.1,919.8 L851.5,919.4 L852.9,919.0 L854.2,918.6 L855.6,918.1 L856.9,917.6 L858.2,917.1 L859.5,916.5 L860.8,916.0 L862.1,915.4 L863.4,914.8 L864.7,914.1 L865.9,913.4 L867.2,912.8 L868.4,912.0 L869.6,911.3 L870.8,910.5 L872.0,909.8 L873.2,908.9 L874.4,908.1 L875.6,907.3 L876.7,906.4 L877.8,905.5 L879.0,904.6 L880.1,903.7 L881.1,902.8 L882.2,901.8 L883.3,900.8 L884.3,899.8 L885.3,898.8 L886.3,897.8 L887.3,896.8 L888.3,895.7 L889.3,894.6 L890.2,893.6 L891.1,892.5 L892.1,891.4 L892.9,890.2 L893.8,889.1 L894.7,888.0 L895.5,886.8 L896.3,885.7 L897.2,884.5 L898.0,883.3 L898.7,882.1 L899.5,880.9 L900.2,879.7 L901.0,878.5 L901.7,877.3 L902.4,876.1 L903.1,874.8 L903.8,873.6 L904.4,872.3 L905.1,871.0 L905.7,869.8 L906.4,868.5 L907.0,867.2 L907.6,865.9 L908.2,864.6 L908.7,863.3 L909.3,862.0 L909.9,860.7 L910.4,859.4 L911.0,858.1 L911.5,856.8 L912.0,855.5 L912.5,854.1 L913.0,852.8 L913.5,851.4 L914.0,850.1 L914.4,848.8 L914.9,847.4 L915.4,846.1 L915.8,844.7 L916.3,843.4 L916.7,842.0 L917.1,840.7 L917.5,839.3 L918.0,838.0 L918.4,836.6 L918.8,835.3 L919.2,833.9 L919.6,832.6 L919.9,831.2 L920.3,829.9 L920.7,828.5 L921.1,827.2 L921.4,825.8 L921.8,824.5 L922.2,823.2 L922.5,821.8 L922.9,820.5 L923.2,819.1 L923.6,817.8 L923.9,816.5 L924.2,815.1 L924.6,813.8 L924.9,812.4 L925.2,811.1 L925.6,809.8 L925.9,808.4 L926.2,807.1 L926.5,805.8 L926.8,804.5 L927.1,803.1 L927.5,801.8 L927.8,800.5 L928.1,799.2 L928.4,797.8 L928.6,796.5 L928.9,795.2 L929.2,793.9 L929.5,792.6 L929.8,791.2 L930.1,789.9 L930.4,788.6 L930.7,787.3 L931.0,786.0 L931.2,784.7 L931.5,783.3 L931.8,782.0 L932.1,780.7 L932.4,779.4 L932.6,778.1 L932.9,776.8 L933.2,775.5 L933.5,774.2 L933.7,772.9 L934.0,771.6 L934.3,770.3 L934.6,769.0 L934.9,767.7 L935.1,766.4 L935.4,765.1 L935.7,763.8 L936.0,762.5 L936.3,761.2 L936.5,759.9 L936.8,758.6 L937.1,757.3 L937.4,756.0 L937.7,754.7 L938.0,753.4 L938.2,752.2 L938.5,750.9 L938.8,749.6 L939.1,748.3 L939.4,747.0 L939.7,745.7 L940.0,744.4 L940.3,743.2 L940.6,741.9 L940.9,740.6 L941.2,739.3 L941.5,738.0 L941.9,736.8 L942.2,735.5 L942.5,734.2 L942.8,732.9 L943.1,731.7 L943.5,730.4 L943.8,729.1 L944.1,727.9 L944.5,726.6 L944.8,725.3 L945.1,724.0 L945.5,722.8 L945.8,721.5 L946.2,720.2 L946.6,719.0 L946.9,717.7 L947.3,716.4 L947.6,715.2 L948.0,713.9 L948.4,712.7 L948.8,711.4 L949.2,710.1 L949.5,708.9 L949.9,707.6 L950.3,706.4 L950.7,705.1 L951.1,703.8 L951.5,702.6 L951.9,701.3 L952.4,700.1 L952.8,698.8 L953.2,697.6 L953.6,696.3 L954.1,695.0 L954.5,693.8 L955.0,692.5 L955.4,691.3 L955.9,690.0 L956.4,688.8 L956.8,687.5 L957.3,686.2 L957.8,685.0 L958.2,683.7 L958.7,682.5 L959.2,681.3 L959.7,680.1 L960.2,678.8 L960.8,677.5 L961.3,676.3 L961.8,675.1 L962.3,674.0 L962.8,673.0 L963.3,672.2 L963.8,671.5 L964.4,670.7 L965.0,669.9 L965.6,669.2 L966.2,668.7 L966.6,668.3 L966.9,668.1 L966.8,668.1 L966.3,668.2 L965.9,668.2 L965.9,668.2 L966.1,668.3 L966.5,668.6 L967.1,669.1 L967.7,669.8 L968.4,670.6 L969.1,671.4 L969.7,672.4 L970.4,673.4 L971.1,674.6 L971.8,675.9 L972.5,677.3 L973.2,678.8 L973.8,680.3 L974.4,681.8 L975.0,683.3 L975.5,685.1 L976.1,687.0 L976.6,689.0 L977.1,690.9 L977.5,692.6 L977.9,694.2 L978.2,695.3Z" fill="#f2f2f2" stroke="#1e1e1e" stroke-width="2.7" stroke-linejoin="round"/>
<path d="M367.5,652.0 C369.4,654.3 374.9,661.1 378.6,665.5 C382.3,670.0 386.1,674.5 389.8,678.9 C393.5,683.3 397.3,687.7 401.0,692.0 C404.8,696.4 408.5,700.7 412.3,705.0 C416.1,709.2 419.9,713.5 423.7,717.7 C427.6,721.9 431.4,726.1 435.3,730.3 C439.2,734.4 443.1,738.5 447.0,742.6 C450.9,746.7 454.9,750.7 458.9,754.7 C462.9,758.8 466.9,762.7 471.0,766.7 C475.1,770.6 479.2,774.5 483.3,778.4 C487.5,782.2 491.7,786.1 495.9,789.9 C500.2,793.7 504.5,797.4 508.8,801.2 C513.2,804.9 517.6,808.6 522.0,812.2 C526.5,815.9 531.0,819.5 535.5,823.1 C540.1,826.6 544.7,830.2 549.4,833.7 C554.1,837.2 558.9,840.6 563.7,844.0 C568.5,847.5 573.4,850.8 578.3,854.1 C583.3,857.4 588.3,860.6 593.3,863.6 C598.4,866.7 603.5,869.6 608.7,872.4 C613.8,875.1 619.0,877.8 624.3,880.2 C629.5,882.6 634.8,884.8 640.1,886.8 C645.5,888.7 650.8,890.5 656.2,892.0 C661.6,893.4 667.0,894.7 672.5,895.5 C677.9,896.4 683.4,897.1 688.9,897.3 C694.4,897.5 700.0,897.5 705.5,897.0 C711.0,896.5 716.6,895.7 722.1,894.4 C727.6,893.2 733.1,891.5 738.3,889.3 C743.6,887.1 748.9,884.5 753.8,881.3 C758.7,878.0 765.6,871.9 768.0,870.0" fill="none" stroke="#1e1e1e" stroke-width="11.2" stroke-linecap="round"/>
<path d="M367.5,652.0 C369.4,654.3 374.9,661.1 378.6,665.5 C382.3,670.0 386.1,674.5 389.8,678.9 C393.5,683.3 397.3,687.7 401.0,692.0 C404.8,696.4 408.5,700.7 412.3,705.0 C416.1,709.2 419.9,713.5 423.7,717.7 C427.6,721.9 431.4,726.1 435.3,730.3 C439.2,734.4 443.1,738.5 447.0,742.6 C450.9,746.7 454.9,750.7 458.9,754.7 C462.9,758.8 466.9,762.7 471.0,766.7 C475.1,770.6 479.2,774.5 483.3,778.4 C487.5,782.2 491.7,786.1 495.9,789.9 C500.2,793.7 504.5,797.4 508.8,801.2 C513.2,804.9 517.6,808.6 522.0,812.2 C526.5,815.9 531.0,819.5 535.5,823.1 C540.1,826.6 544.7,830.2 549.4,833.7 C554.1,837.2 558.9,840.6 563.7,844.0 C568.5,847.5 573.4,850.8 578.3,854.1 C583.3,857.4 588.3,860.6 593.3,863.6 C598.4,866.7 603.5,869.6 608.7,872.4 C613.8,875.1 619.0,877.8 624.3,880.2 C629.5,882.6 634.8,884.8 640.1,886.8 C645.5,888.7 650.8,890.5 656.2,892.0 C661.6,893.4 667.0,894.7 672.5,895.5 C677.9,896.4 683.4,897.1 688.9,897.3 C694.4,897.5 700.0,897.5 705.5,897.0 C711.0,896.5 716.6,895.7 722.1,894.4 C727.6,893.2 733.1,891.5 738.3,889.3 C743.6,887.1 748.9,884.5 753.8,881.3 C758.7,878.0 765.6,871.9 768.0,870.0" fill="none" stroke="#f2f2f2" stroke-width="7.2" stroke-linecap="round"/>
<path d="M1005.4,694.0 C1005.1,691.3 1004.8,682.1 1003.5,678.0 C1002.2,673.9 999.7,669.8 997.8,669.5 C995.9,669.2 993.5,673.2 992.0,676.0 C990.5,678.8 989.3,684.7 988.8,686.4" fill="none" stroke="#8a8a8c" stroke-width="9"/>
<path d="M973,690.3 A29,9.2 0 0 0 1031,690.3 V714.5 A29,9 0 0 1 973,714.5 Z" fill="#f1f1f1" stroke="#1c1c1c" stroke-width="3" stroke-linejoin="round"/>
<path d="M997.8,669.5 C996.9,670.4 993.9,672.2 992.5,675.0 C991.1,677.8 990.6,682.3 989.5,686.4 C988.4,690.5 987.2,695.4 986.2,699.9 C985.1,704.4 984.2,708.9 983.2,713.4 C982.3,717.9 981.5,722.4 980.7,726.9 C979.8,731.4 979.1,735.9 978.4,740.4 C977.7,744.9 977.0,749.4 976.4,753.9 C975.7,758.4 975.1,762.9 974.6,767.4 C974.0,772.0 973.5,776.5 972.9,781.0 C972.4,785.5 971.9,790.0 971.5,794.6 C971.0,799.1 970.5,803.6 970.1,808.1 C969.6,812.7 969.2,817.2 968.7,821.7 C968.3,826.3 967.9,830.8 967.4,835.4 C967.0,839.9 966.5,844.4 966.1,849.0 C965.6,853.5 965.2,858.1 964.7,862.6 C964.2,867.2 963.7,871.7 963.2,876.3 C962.6,880.8 962.1,885.4 961.5,889.9 C960.9,894.5 960.3,899.1 959.6,903.6 C958.9,908.2 958.2,912.8 957.5,917.3 C956.7,921.9 955.9,926.5 955.1,931.1 C954.2,935.6 953.4,940.2 952.4,944.8 C951.4,949.4 950.4,954.0 949.3,958.5 C948.1,963.0 947.0,967.5 945.6,972.0 C944.3,976.4 942.8,980.8 941.2,985.0 C939.6,989.3 937.8,993.5 935.8,997.5 C933.9,1001.5 931.8,1005.4 929.4,1009.1 C927.0,1012.8 924.5,1016.4 921.7,1019.7 C918.8,1023.0 915.8,1026.2 912.5,1029.1 C909.3,1032.0 905.8,1034.7 902.1,1037.1 C898.5,1039.5 894.6,1041.7 890.6,1043.6 C886.6,1045.5 882.4,1047.1 878.1,1048.5 C873.8,1049.8 869.3,1050.9 864.8,1051.6 C860.2,1052.4 855.6,1052.9 850.9,1053.2 C846.3,1053.4 841.5,1053.3 836.8,1053.0 C832.1,1052.7 827.3,1052.1 822.7,1051.3 C818.0,1050.5 813.3,1049.4 808.8,1048.1 C804.3,1046.7 799.8,1045.1 795.5,1043.3 C791.1,1041.5 786.9,1039.4 782.9,1037.1 C778.9,1034.8 775.0,1032.2 771.4,1029.4 C767.8,1026.6 764.3,1023.6 761.2,1020.4 C758.0,1017.1 753.9,1011.7 752.5,1010.0" fill="none" stroke="#8a8a8c" stroke-width="9"/>
<path d="M310.5,652.5 C311.1,655.5 312.9,664.5 314.4,670.3 C315.9,676.2 317.6,681.9 319.5,687.6 C321.4,693.3 323.5,699.0 325.8,704.5 C328.0,710.1 330.5,715.6 333.1,721.0 C335.6,726.4 338.4,731.8 341.2,737.1 C344.0,742.5 347.0,747.7 350.0,752.9 C353.1,758.2 356.2,763.3 359.5,768.5 C362.7,773.6 366.0,778.7 369.3,783.8 C372.6,788.9 376.0,793.9 379.4,798.9 C382.8,803.9 386.3,808.9 389.7,813.9 C393.2,818.8 396.7,823.8 400.3,828.7 C403.8,833.6 407.3,838.5 410.9,843.4 C414.5,848.2 418.1,853.1 421.7,857.9 C425.3,862.8 429.0,867.6 432.6,872.4 C436.3,877.2 439.9,881.9 443.6,886.7 C447.3,891.5 450.9,896.2 454.7,901.0 C458.4,905.7 462.1,910.4 465.9,915.1 C469.7,919.7 473.5,924.4 477.4,928.9 C481.3,933.5 485.2,938.0 489.2,942.5 C493.2,946.9 497.3,951.3 501.5,955.6 C505.7,960.0 510.0,964.2 514.4,968.3 C518.8,972.5 523.2,976.6 527.8,980.5 C532.4,984.5 537.0,988.4 541.8,992.1 C546.6,995.9 551.4,999.5 556.4,1003.1 C561.4,1006.6 566.4,1010.0 571.6,1013.3 C576.8,1016.6 582.1,1019.8 587.5,1022.8 C592.9,1025.8 598.4,1028.7 604.0,1031.2 C609.6,1033.8 615.3,1036.2 621.0,1038.3 C626.7,1040.3 632.5,1042.1 638.3,1043.5 C644.1,1044.8 650.0,1045.9 655.8,1046.4 C661.7,1047.0 667.5,1047.1 673.3,1046.7 C679.0,1046.3 684.7,1045.4 690.2,1043.9 C695.7,1042.3 701.1,1040.2 706.2,1037.4 C711.4,1034.6 716.4,1031.2 721.0,1026.9 C725.6,1022.7 731.8,1014.5 734.0,1012.0" fill="none" stroke="#8a8a8c" stroke-width="8.2" stroke-linecap="round"/>
<path d="M964.8,309.5 L971,293 Q975,282.8 986,282.8 H1014 Q1022,282.8 1025,289.5 L1035,309.5 Z" fill="#eeeeee" stroke="#1c1c1c" stroke-width="3" stroke-linejoin="round"/>
<ellipse cx="1000" cy="297.5" rx="10" ry="8" fill="#f4f4f4" stroke="#1c1c1c" stroke-width="3"/>
<rect x="974.5" y="310.5" width="51" height="27.3" fill="#eeeeee" stroke="#1c1c1c" stroke-width="3" stroke-linejoin="round"/>
<use href="#nut" x="775.3" y="790"/>
<use href="#nut" x="740.3" y="929"/>
<path d="M882.5,790.8 L996.3,856.3 L976.3,891.3 L862.5,823.8 Z" fill="#e4e4e4" stroke="#5c5c5e" stroke-width="1.5"/>
<text transform="translate(929.4,840.6) rotate(30)" font-size="29" font-style="italic" fill="#2a2a2c" stroke="#2a2a2c" stroke-width="0.9" text-anchor="middle" textLength="101" lengthAdjust="spacingAndGlyphs" x="0" y="10.5">Neutral</text>
<path d="M835.5,934.5 L873.8,938.8 L859.5,1056.3 L823,1052.5 Z" fill="#e4e4e4" stroke="#5c5c5e" stroke-width="1.5"/>
<text transform="translate(847.7,996.5) rotate(-83.5)" font-size="31" font-weight="bold" fill="#2a2a2c" text-anchor="middle" textLength="98" lengthAdjust="spacingAndGlyphs" x="0" y="11">Ground</text>
<use href="#arrow" x="832.4" y="114.7"/>
<use href="#arrow" transform="translate(1120.9,885.4) rotate(-90)"/>
<text x="757.1" y="92.3" font-size="42" fill="#414143">To Light</text>
<text x="1066.5" y="952.7" font-size="41.5" fill="#414143" textLength="119.5" lengthAdjust="spacingAndGlyphs">Power</text>
<text x="1066.3" y="1001.6" font-size="41.5" fill="#414143" textLength="136.5" lengthAdjust="spacingAndGlyphs">Source</text>
<rect x="40" y="1139" width="1366.5" height="255.5" fill="#606060"/>
<rect x="40" y="1139" width="22.3" height="255.5" fill="url(#strip)"/>
<text transform="translate(104.5,1228.5) scale(1,1.06)" font-size="56.15" font-weight="bold" fill="#fff" x="0" y="0">Detailed Installation Guide</text>
<text x="105" y="1298" font-size="44" fill="#fff">Neutral and Ground wires are required. Tapo App guides you</text>
<text x="105" y="1352.5" font-size="44" fill="#fff">through easy step by step installation. 2.4GHz Wi-Fi required.</text>
</svg>
</body></html>
